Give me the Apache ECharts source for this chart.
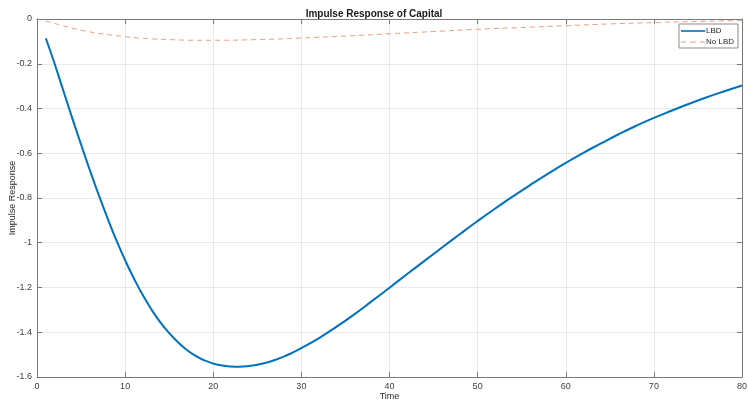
<!DOCTYPE html>
<html>
<head>
<meta charset="utf-8">
<script src="https://cdn.jsdelivr.net/npm/echarts@6/dist/echarts.min.js"></script>
<style>
  html, body { margin: 0; padding: 0; background: #fff; }
  #chart { width: 748px; height: 402px; }
</style>
</head>
<body>
<div id="chart"></div>
<script>
// LBD response
const lbdTime = [1, 2, 3, 4, 5, 6, 7, 8, 9, 10, 11, 12, 13, 14, 15, 16, 17, 18, 19, 20,
  21, 22, 23, 24, 25, 26, 27, 28, 29, 30, 32, 34, 36, 38, 40, 42, 44, 46, 48, 50,
  52, 54, 56, 58, 60, 62, 64, 66, 68, 70, 72, 74, 76, 78, 80]
const lbdValue = [-0.086, -0.200, -0.322, -0.443, -0.561, -0.676, -0.786, -0.890, -0.988, -1.078,
  -1.160, -1.234, -1.299, -1.356, -1.404, -1.445, -1.479, -1.506, -1.526, -1.540,
  -1.549, -1.553, -1.554, -1.551, -1.545, -1.536, -1.524, -1.509, -1.491, -1.471,
  -1.426, -1.375, -1.320, -1.261, -1.201, -1.140, -1.080, -1.020, -0.961, -0.903,
  -0.847, -0.793, -0.741, -0.691, -0.643, -0.598, -0.556, -0.515, -0.477, -0.442,
  -0.410, -0.379, -0.350, -0.323, -0.297]

// No LBD response
const noLbdTime = [1, 2, 3, 5, 7, 10, 12, 15, 18, 20, 25, 30, 35, 40, 45, 50, 55, 60, 65, 70, 75, 80]
const noLbdValue = [-0.009, -0.020, -0.031, -0.050, -0.064, -0.079, -0.086, -0.092, -0.095, -0.095,
  -0.092, -0.085, -0.076, -0.066, -0.056, -0.046, -0.038, -0.030, -0.022, -0.016, -0.011, -0.007]

const xTicks = { min: 0, max: 80, interval: 10 }
const yTicks = { min: -1.6, max: 0, interval: 0.2 }

const chart = echarts.init(document.getElementById('chart'))

const axisGray = '#7a7a7a'
const labelColor = '#404040'

const toPairs = (xs, ys) => xs.map((x, i) => [x, ys[i]])

// legend icons: a thin solid bar and a dashed bar
const solidIcon = 'path://M0,0 L24,0 L24,1.6 L0,1.6 Z'
const dashedIcon = 'path://M0,0 L5,0 L5,1.2 L0,1.2 Z M9,0 L15,0 L15,1.2 L9,1.2 Z M19,0 L24,0 L24,1.2 L19,1.2 Z'

const option = {
  animation: false,
  backgroundColor: '#fff',
  title: {
    text: 'Impulse Response of Capital',
    left: 'center',
    top: 4,
    textStyle: { fontFamily: 'Arial, Liberation Sans', fontSize: 10, fontWeight: 'bold', color: '#1a1a1a' }
  },
  legend: {
    orient: 'vertical',
    right: 10,
    top: 24,
    itemWidth: 24,
    itemHeight: 8,
    itemGap: 3,
    padding: [3, 4, 2, 2],
    borderColor: '#8a8a8a',
    borderWidth: 1,
    borderRadius: 0,
    backgroundColor: '#fff',
    textStyle: { fontFamily: 'Arial, Liberation Sans', fontSize: 8, color: '#262626', padding: [0, 0, 0, -4] },
    data: [
      { name: 'LBD', icon: solidIcon },
      { name: 'No LBD', icon: dashedIcon }
    ]
  },
  grid: { left: 37, right: 6, top: 19, bottom: 25, outerBoundsMode: 'none', containLabel: false },
  xAxis: [
    {
      type: 'value',
      min: xTicks.min,
      max: xTicks.max,
      interval: xTicks.interval,
      name: 'Time',
      nameLocation: 'middle',
      nameGap: 15,
      nameMoveOverlap: false,
      nameTextStyle: { fontFamily: 'Arial, Liberation Sans', fontSize: 9, color: '#262626' },
      axisLine: { show: true, onZero: false, lineStyle: { color: axisGray, width: 1 } },
      axisTick: { show: true, inside: true, length: 5, lineStyle: { color: axisGray } },
      axisLabel: { fontFamily: 'Arial, Liberation Sans', fontSize: 9, color: labelColor, margin: 5 },
      splitLine: { show: true, lineStyle: { color: '#e8e8e8', width: 1 } }
    },
    {
      type: 'value',
      position: 'top',
      min: xTicks.min,
      max: xTicks.max,
      interval: xTicks.interval,
      axisLine: { show: true, onZero: false, lineStyle: { color: axisGray, width: 1 } },
      axisTick: { show: true, inside: true, length: 5, lineStyle: { color: axisGray } },
      axisLabel: { show: false },
      splitLine: { show: false }
    }
  ],
  yAxis: [
    {
      type: 'value',
      min: yTicks.min,
      max: yTicks.max,
      interval: yTicks.interval,
      name: 'Impulse Response',
      nameLocation: 'middle',
      nameGap: 24,
      nameMoveOverlap: false,
      nameRotate: 90,
      nameTextStyle: { fontFamily: 'Arial, Liberation Sans', fontSize: 9, color: '#262626', verticalAlign: 'middle' },
      axisLine: { show: true, onZero: false, lineStyle: { color: axisGray, width: 1 } },
      axisTick: { show: true, inside: true, length: 5, lineStyle: { color: axisGray } },
      axisLabel: { fontFamily: 'Arial, Liberation Sans', fontSize: 9, color: labelColor, margin: 5 },
      splitLine: { show: true, lineStyle: { color: '#e8e8e8', width: 1 } }
    },
    {
      type: 'value',
      position: 'right',
      min: yTicks.min,
      max: yTicks.max,
      interval: yTicks.interval,
      axisLine: { show: true, onZero: false, lineStyle: { color: axisGray, width: 1 } },
      axisTick: { show: true, inside: true, length: 5, lineStyle: { color: axisGray } },
      axisLabel: { show: false },
      splitLine: { show: false }
    }
  ],
  series: [
    {
      name: 'LBD',
      type: 'line',
      data: toPairs(lbdTime, lbdValue),
      smooth: true,
      showSymbol: false,
      symbol: 'none',
      color: '#0072BD',
      lineStyle: { color: '#0072BD', width: 2 },
      z: 3
    },
    {
      name: 'No LBD',
      type: 'line',
      data: toPairs(noLbdTime, noLbdValue),
      smooth: true,
      showSymbol: false,
      symbol: 'none',
      color: '#EC9C7A',
      lineStyle: { color: '#EC9C7A', width: 1, type: [5, 4] },
      z: 2
    }
  ]
}

chart.setOption(option)
</script>
</body>
</html>
